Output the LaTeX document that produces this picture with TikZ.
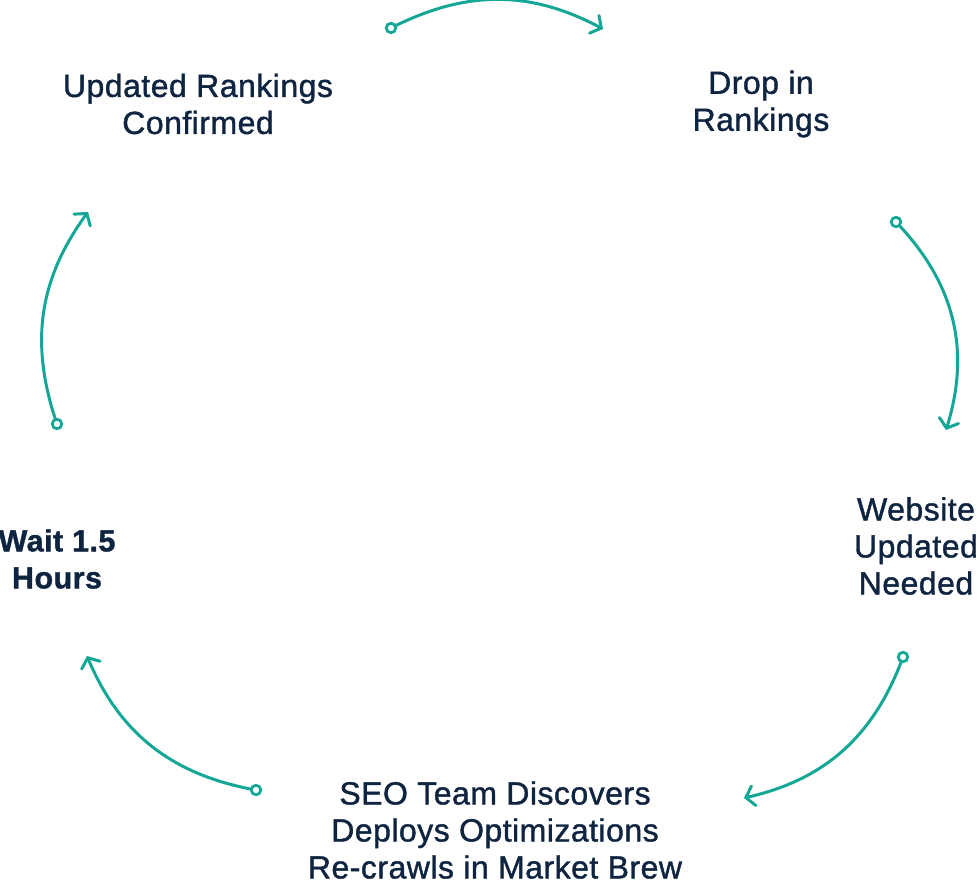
\documentclass[tikz,border=0pt]{standalone}
\usepackage{fontspec}
\setmainfont{Liberation Sans}[FakeBold=1.2, LetterSpace=1.5]
\usetikzlibrary{arrows.meta}
\definecolor{navytext}{HTML}{0E2440}
\definecolor{cyccol}{HTML}{14A795}
\begin{document}
\begin{tikzpicture}[x=1pt,y=-1pt,
  lbl/.style={text=navytext, font=\fontsize{32}{37}\selectfont, align=center, inner sep=0pt},
  ring/.style={circle, draw=cyccol, line width=2.8pt, minimum size=9.5pt, inner sep=0pt},
  cyc/.style={draw=cyccol, line width=3pt, line cap=round,
    -{Straight Barb[length=8pt,width=20pt,line width=3pt,line cap=round]}}]
\useasboundingbox (0,0) rectangle (978,882);

\node[lbl] (n1) at (198,104) {Updated Rankings\\Confirmed};
\node[lbl] (n2) at (761,104) {Drop in\\Rankings};
\node[lbl] (n3) at (916,546) {Website\\Updated\\Needed};
\node[lbl, font=\bfseries\fontsize{30.5}{37}\selectfont] (n4) at (57,559) {Wait 1.5\\Hours};
\node[lbl] (n5) at (495,830) {SEO Team Discovers\\Deploys Optimizations\\Re-crawls in Market Brew};

\node[ring] (r1) at (391,28) {};
\node[ring] (r2) at (896,222) {};
\node[ring] (r3) at (903,657) {};
\node[ring] (r4) at (256,790) {};
\node[ring] (r5) at (57,424) {};

\coordinate (a1e) at (603,29);
\coordinate (a2e) at (946,430);
\coordinate (a3e) at (744,798);
\coordinate (a4e) at (87,656);
\coordinate (a5e) at (88,212);

\draw[cyc] (r1) to[bend left=27] (a1e);
\draw[cyc] (r2) to[bend left=30] (a2e);
\draw[cyc] (r3) to[bend left=28] (a3e);
\draw[cyc] (r4) to[bend left=28] (a4e);
\draw[cyc] (r5) to[bend left=27] (a5e);
\end{tikzpicture}
\end{document}
